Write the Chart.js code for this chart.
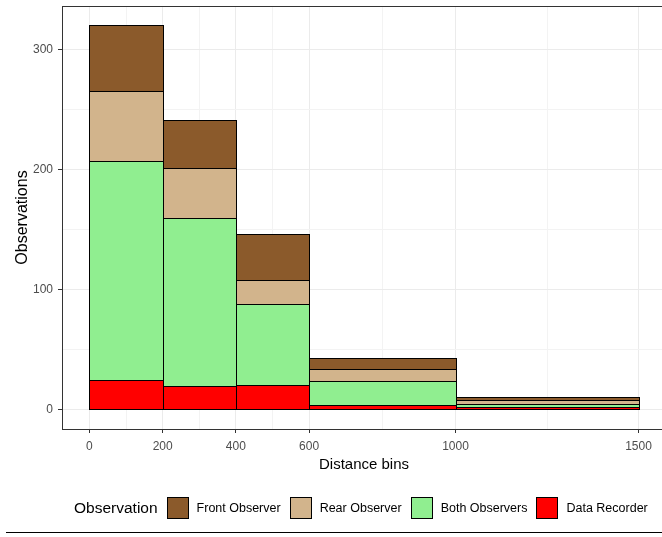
<!DOCTYPE html>
<html>
<head>
<meta charset="utf-8">
<script src="https://cdn.jsdelivr.net/npm/chart.js@4.4.1/dist/chart.umd.min.js"></script>
<style>
  html, body { margin: 0; padding: 0; background: #fff; }
  body { width: 662px; height: 537px; overflow: hidden; position: relative; font-family: "Liberation Sans", Arial, sans-serif; }
  #chart { position: absolute; left: 0; top: 0; }
  #legend { position: absolute; left: 74px; top: 496px; height: 23px; display: flex; align-items: center; white-space: nowrap; }
  #legend .title { font-size: 15.5px; color: #000; margin-right: 9px; }
  #legend .key { width: 20px; height: 20px; border: 1px solid #000; margin-right: 8px; }
  #legend .lbl { font-size: 12.5px; color: #000; margin-right: 9px; }
  #rule { position: absolute; left: 6px; right: 0; top: 532px; height: 1px; background: #000; }
</style>
</head>
<body>
<canvas id="chart" width="670" height="537"></canvas>
<div id="legend"></div>
<div id="rule"></div>
<script>
  // distance bins (left / right edges)
  const binStart = [0, 200, 400, 600, 1000];
  const binEnd = [200, 400, 600, 1000, 1500];

  // counts per bin, bottom of the stack first
  const dataRecorder = [25, 20, 21, 4, 2];
  const bothObservers = [182, 140, 67, 20, 3];
  const rearObserver = [58, 41, 20, 10, 3];
  const frontObserver = [55, 40, 38, 9, 3];

  const xTickLabels = [0, 200, 400, 600, 1000, 1500];
  const xMinorTicks = [100, 300, 500, 800, 1250];
  const yTickLabels = [0, 100, 200, 300];
  const yMinorTicks = [50, 150, 250];

  const colors = {
    "Front Observer": "#8B5A2B",
    "Rear Observer": "#D2B48C",
    "Both Observers": "#90EE90",
    "Data Recorder": "#FF0000"
  };
  const legendOrder = ["Front Observer", "Rear Observer", "Both Observers", "Data Recorder"];

  Chart.defaults.font.family = "'Liberation Sans', Arial, sans-serif";

  function makeSet(label, values) {
    return {
      label: label,
      backgroundColor: colors[label],
      borderColor: "#000000",
      borderWidth: 1,
      borderSkipped: false,
      inflateAmount: 0,
      data: values.map(function (v, i) {
        return { x: (binStart[i] + binEnd[i]) / 2, y: v };
      })
    };
  }

  function gridColor(ctx, major) {
    if (!ctx.tick) return "rgba(0,0,0,0)";
    return major.indexOf(ctx.tick.value) >= 0 ? "#EBEBEB" : "#F3F3F3";
  }
  function tickColor(ctx, major) {
    if (!ctx.tick) return "rgba(0,0,0,0)";
    return major.indexOf(ctx.tick.value) >= 0 ? "#333333" : "rgba(0,0,0,0)";
  }
  function allTicks(a, b) {
    return a.concat(b).sort(function (p, q) { return p - q; }).map(function (v) { return { value: v }; });
  }

  // histogram bins have different widths: stretch each bar to its bin edges on the x scale,
  // snapped so that neighbouring outlines share one pixel
  const binWidths = {
    id: "binWidths",
    afterDatasetsUpdate: function (chart) {
      const xs = chart.scales.x;
      chart.data.datasets.forEach(function (ds, d) {
        chart.getDatasetMeta(d).data.forEach(function (bar, i) {
          const l = Math.round(xs.getPixelForValue(binStart[i]));
          const r = Math.round(xs.getPixelForValue(binEnd[i])) + 1;
          bar.x = (l + r) / 2;
          bar.width = r - l;
          bar.y = Math.round(bar.y);
          bar.base = Math.round(bar.base) + 1;
        });
      });
    }
  };

  const panelBorder = {
    id: "panelBorder",
    afterDraw: function (chart) {
      const a = chart.chartArea;
      const ctx = chart.ctx;
      ctx.save();
      ctx.strokeStyle = "#333333";
      ctx.lineWidth = 1;
      ctx.strokeRect(Math.round(a.left) + 0.5, Math.round(a.top) + 0.5,
        Math.round(a.right - a.left), Math.round(a.bottom - a.top));
      ctx.restore();
    }
  };

  function noPad(s) {
    s.paddingTop = 0;
    s.paddingBottom = 0;
    s.paddingLeft = 0;
    s.paddingRight = 0;
  }

  new Chart(document.getElementById("chart"), {
    type: "bar",
    data: {
      datasets: [
        makeSet("Data Recorder", dataRecorder),
        makeSet("Both Observers", bothObservers),
        makeSet("Rear Observer", rearObserver),
        makeSet("Front Observer", frontObserver)
      ]
    },
    options: {
      responsive: false,
      animation: false,
      events: [],
      layout: { padding: { left: 0, top: 6, right: 4, bottom: 62 } },
      plugins: { legend: { display: false }, tooltip: { enabled: false } },
      scales: {
        x: {
          type: "linear",
          min: -75,
          max: 1575,
          offset: false,
          stacked: true,
          afterBuildTicks: function (s) { s.ticks = allTicks(xTickLabels, xMinorTicks); },
          afterFit: function (s) { s.height = 46; noPad(s); },
          ticks: {
            autoSkip: false,
            maxRotation: 0,
            padding: 6,
            color: "#4D4D4D",
            font: { size: 12 },
            callback: function (v) { return xTickLabels.indexOf(v) >= 0 ? String(v) : ""; }
          },
          grid: {
            offset: false,
            lineWidth: 1,
            tickLength: 4,
            color: function (ctx) { return gridColor(ctx, xTickLabels); },
            tickColor: function (ctx) { return tickColor(ctx, xTickLabels); }
          },
          border: { display: false },
          title: { display: true, text: "Distance bins", color: "#000", font: { size: 15 }, padding: { top: 0, bottom: 1 } }
        },
        y: {
          min: -16,
          max: 336,
          stacked: true,
          afterBuildTicks: function (s) { s.ticks = allTicks(yTickLabels, yMinorTicks); },
          afterFit: function (s) { s.width = 62; noPad(s); },
          ticks: {
            autoSkip: false,
            padding: 5,
            color: "#4D4D4D",
            font: { size: 12 },
            callback: function (v) { return yTickLabels.indexOf(v) >= 0 ? String(v) : ""; }
          },
          grid: {
            lineWidth: 1,
            tickLength: 4,
            color: function (ctx) { return gridColor(ctx, yTickLabels); },
            tickColor: function (ctx) { return tickColor(ctx, yTickLabels); }
          },
          border: { display: false },
          title: { display: true, text: "Observations", color: "#000", font: { size: 16 }, padding: { top: 13, bottom: 0 } }
        }
      }
    },
    plugins: [binWidths, panelBorder]
  });

  const legend = document.getElementById("legend");
  legend.innerHTML = '<span class="title">Observation</span>' + legendOrder.map(function (name) {
    return '<span class="key" style="background:' + colors[name] + ';"></span><span class="lbl">' + name + "</span>";
  }).join("");
</script>
</body>
</html>
